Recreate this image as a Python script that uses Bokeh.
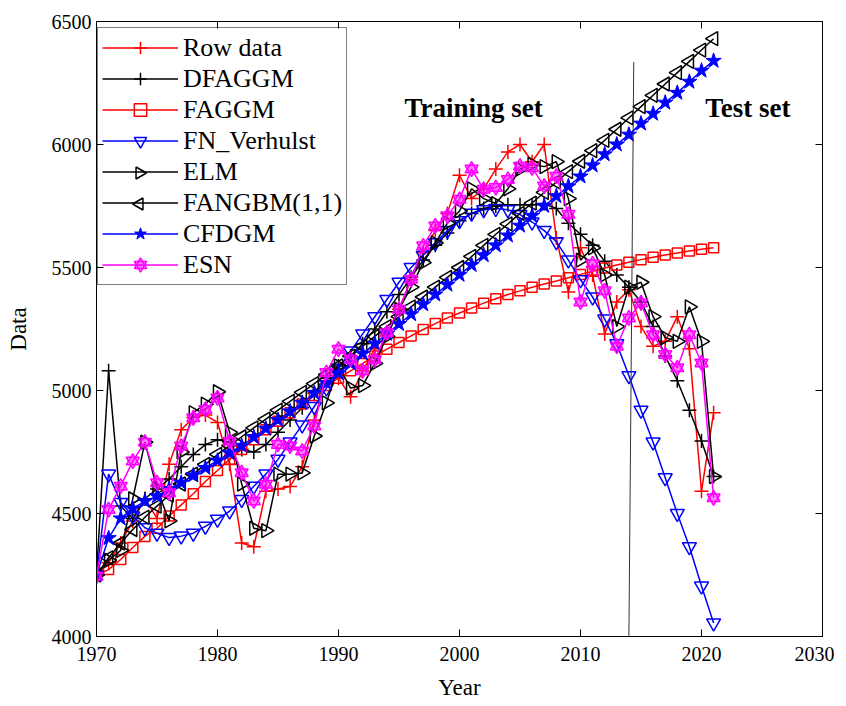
import math
from bokeh.plotting import figure
from bokeh.models import FixedTicker, LinearAxis, Legend, LegendItem, Range1d, Label, ColumnDataSource
from bokeh.embed import file_html
from bokeh.resources import INLINE

years = list(range(1970, 2022))

row_data = [4250, 4300, 4380, 4470, 4560, 4480, 4700, 4840, 4890, 4900,
            4870, 4700, 4380, 4365, 4590, 4600, 4610, 4690, 4880, 5060,
            5050, 4975, 5080, 5170, 5230, 5330, 5450, 5560, 5650, 5720,
            5875, 5780, 5820, 5900, 5970, 6000, 5930, 6000, 5620, 5400,
            5580, 5470, 5230, 5360, 5410, 5260, 5180, 5200, 5300, 5170,
            4590, 4910]

dfaggm = [4250, 5080, 4530, 4480, 4560, 4600, 4640, 4690, 4740, 4780,
          4800, 4790, 4760, 4750, 4780, 4830, 4880, 4930, 4990, 5050,
          5100, 5140, 5190, 5250, 5320, 5390, 5460, 5530, 5590, 5640,
          5690, 5720, 5740, 5750, 5755, 5755, 5755, 5760, 5740, 5680,
          5635, 5590, 5525, 5470, 5420, 5360, 5260, 5140, 5040, 4920,
          4795, 4650]

faggm = [4250, 4272, 4313, 4362, 4407, 4440, 4490, 4535, 4580, 4630,
         4675, 4720, 4760, 4800, 4840, 4875, 4910, 4945, 4980, 5020,
         5050, 5080, 5110, 5140, 5168, 5195, 5222, 5248, 5272, 5295,
         5315, 5335, 5355, 5373, 5390, 5405, 5420, 5433, 5445, 5458,
         5472, 5485, 5498, 5510, 5521, 5532, 5542, 5551, 5559, 5567,
         5574, 5580]

fn_verhulst = [4250, 4660, 4545, 4490, 4442, 4420, 4402, 4408, 4420, 4448,
               4476, 4510, 4557, 4611, 4660, 4720, 4790, 4860, 4935, 5010,
               5090, 5160, 5230, 5300, 5370, 5440, 5500, 5550, 5600, 5650,
               5690, 5720, 5735, 5740, 5735, 5715, 5685, 5650, 5605, 5530,
               5450, 5380, 5290, 5190, 5060, 4920, 4790, 4645, 4500, 4365,
               4205, 4055]

elm = [4250, 4310, 4350, 4560, 4790, 4600, 4470, 4750, 4910, 4945,
       4995, 4830, 4620, 4440, 4430, 4660, 4660, 4665, 4815, 4950,
       5100, 5010, 5020, 5110, 5220, 5330, 5420, 5520, 5600, 5680,
       5730, 5820, 5780, 5760, 5820, 5900, 5920, 5910, 5930, 5780,
       5530, 5580, 5470, 5260, 5420, 5440, 5300, 5215, 5200, 5340,
       5200, 4650]

fangbm = [4250, 4320, 4380, 4435, 4485, 4530, 4575, 4620, 4660, 4700,
          4740, 4776, 4812, 4848, 4884, 4920, 4956, 4992, 5028, 5064,
          5100, 5140, 5180, 5220, 5260, 5300, 5340, 5380, 5420, 5460,
          5500, 5545, 5590, 5635, 5677, 5720, 5762, 5805, 5847, 5890,
          5932, 5975, 6017, 6062, 6108, 6154, 6200, 6246, 6292, 6338,
          6384, 6430]

cfdgm = [4250, 4400, 4480, 4520, 4550, 4570, 4600, 4625, 4655, 4685,
         4715, 4745, 4775, 4810, 4845, 4880, 4915, 4950, 4990, 5030,
         5070, 5110, 5150, 5190, 5230, 5270, 5310, 5350, 5390, 5430,
         5470, 5510, 5550, 5590, 5630, 5670, 5710, 5750, 5790, 5830,
         5870, 5915, 5960, 6000, 6040, 6085, 6125, 6170, 6210, 6255,
         6300, 6340]

esn = [4245, 4516, 4611, 4713, 4790, 4625, 4584, 4774, 4889, 4923,
       4970, 4794, 4666, 4551, 4619, 4781, 4774, 4754, 4856, 5073,
       5168, 5127, 5080, 5126, 5235, 5330, 5452, 5588, 5669, 5710,
       5777, 5900, 5818, 5825, 5858, 5912, 5905, 5831, 5871, 5716,
       5360, 5515, 5405, 5180, 5295, 5356, 5227, 5146, 5092, 5227,
       5112, 4564]

x_ticks = [1970, 1980, 1990, 2000, 2010, 2020, 2030]
y_ticks = [4000, 4500, 5000, 5500, 6000, 6500]
split_x = [2014.4, 2014.0]
split_y = [6335, 4000]

FONT = "Liberation Serif"
RED, BLACK, BLUE, MAG = "#ff0000", "#000000", "#0000ff", "#ff00ff"
FW, FH = 726, 615
X0, X1, Y0, Y1 = 1970, 2030, 4000, 6500

p = figure(frame_width=FW, frame_height=FH,
           x_range=Range1d(X0, X1), y_range=Range1d(Y0, Y1),
           output_backend="svg", toolbar_location=None,
           min_border_left=96, min_border_top=21, min_border_right=12,
           min_border_bottom=67,
           background_fill_color="white", border_fill_color="white")
p.grid.visible = False
p.outline_line_color = "black"
p.outline_line_width = 1

for ax in [p.xaxis[0], p.yaxis[0]]:
    ax.major_tick_in = 7
    ax.major_tick_out = 0
    ax.minor_tick_line_color = None
    ax.axis_line_color = "black"
    ax.major_label_text_font = FONT
    ax.major_label_text_font_size = "20px"
    ax.major_label_text_color = "black"
    ax.axis_label_text_font = FONT
    ax.axis_label_text_font_size = "23px"
    ax.axis_label_text_font_style = "normal"
    ax.axis_label_text_color = "black"
p.xaxis.ticker = FixedTicker(ticks=x_ticks)
p.yaxis.ticker = FixedTicker(ticks=y_ticks)
p.xaxis.axis_label = "Year"
p.yaxis.axis_label = "Data"
p.xaxis.major_label_standoff = 10
p.yaxis.major_label_standoff = 5
p.xaxis.axis_label_standoff = 11
p.yaxis.axis_label_standoff = 18

top_ax = LinearAxis(ticker=FixedTicker(ticks=x_ticks), major_tick_in=7, major_tick_out=0,
                    minor_tick_line_color=None,
                    major_label_overrides={t: "" for t in x_ticks},
                    major_label_standoff=0)
right_ax = LinearAxis(ticker=FixedTicker(ticks=y_ticks), major_tick_in=7, major_tick_out=0,
                      minor_tick_line_color=None,
                      major_label_overrides={t: "" for t in y_ticks},
                      major_label_standoff=0)
p.add_layout(top_ax, "above")
p.add_layout(right_ax, "right")

LW = 1.5
items = []

l = p.line(years, row_data, color=RED, line_width=LW)
s = p.scatter(years, row_data, marker="cross", size=14, line_color=RED, line_width=LW)
items.append(LegendItem(label="Row data", renderers=[l, s]))

l = p.line(years, dfaggm, color=BLACK, line_width=LW)
s = p.scatter(years, dfaggm, marker="cross", size=14, line_color=BLACK, line_width=LW)
items.append(LegendItem(label="DFAGGM", renderers=[l, s]))

l = p.line(years, faggm, color=RED, line_width=LW)
s = p.scatter(years, faggm, marker="square", size=10, line_color=RED, fill_color=None, line_width=LW)
items.append(LegendItem(label="FAGGM", renderers=[l, s]))

l = p.line(years, fn_verhulst, color=BLUE, line_width=LW)
s = p.scatter(years, fn_verhulst, marker="inverted_triangle", size=14, line_color=BLUE,
              fill_color=None, line_width=LW)
items.append(LegendItem(label="FN_Verhulst", renderers=[l, s]))

elm_src = ColumnDataSource(dict(x=years, y=elm, a=[-math.pi / 2] * len(years)))
l = p.line("x", "y", source=elm_src, color=BLACK, line_width=LW)
s = p.scatter("x", "y", source=elm_src, marker="triangle", size=14, angle="a",
              line_color=BLACK, fill_color=None, line_width=LW)
items.append(LegendItem(label="ELM", renderers=[l]))

fan_src = ColumnDataSource(dict(x=years, y=fangbm, a=[math.pi / 2] * len(years)))
l = p.line("x", "y", source=fan_src, color=BLACK, line_width=LW)
s = p.scatter("x", "y", source=fan_src, marker="triangle", size=14, angle="a",
              line_color=BLACK, fill_color=None, line_width=LW)
items.append(LegendItem(label="FANGBM(1,1)", renderers=[l]))

l = p.line(years, cfdgm, color=BLUE, line_width=LW)
s = p.scatter(years, cfdgm, marker="star", size=16, line_color=BLUE, fill_color=BLUE, line_width=1)
items.append(LegendItem(label="CFDGM", renderers=[l, s]))

l = p.line(years, esn, color=MAG, line_width=LW)
s1 = p.scatter(years, esn, marker="triangle", size=13, line_color=MAG, fill_color=MAG,
               fill_alpha=0.3, line_width=LW)
s2 = p.scatter(years, esn, marker="inverted_triangle", size=13, line_color=MAG, fill_color=MAG,
               fill_alpha=0.3, line_width=LW)
items.append(LegendItem(label="ESN", renderers=[l, s1, s2]))

p.line(split_x, split_y, color="#333333", line_width=1)

p.add_layout(Label(x=1995.45, y=6150, text="Training set", text_font=FONT,
                   text_font_style="bold", text_font_size="27px", text_baseline="middle",
                   text_color="black"))
p.add_layout(Label(x=2020.3, y=6150, text="Test set", text_font=FONT,
                   text_font_style="bold", text_font_size="27px", text_baseline="middle",
                   text_color="black"))

LEG_PAD, LEG_H, LEG_X, LEG_Y, GW = 4, 31, 1, 351, 76
legend = Legend(items=items, location=(LEG_X, LEG_Y),
                label_text_font=FONT, label_text_font_size="26px", label_text_color="black",
                glyph_width=GW, glyph_height=LEG_H, label_height=LEG_H, label_standoff=5,
                spacing=0, padding=LEG_PAD, margin=0,
                border_line_color="black", border_line_width=1,
                background_fill_color="white", background_fill_alpha=0.0)
p.add_layout(legend, "center")

# rotated-triangle symbols for the ELM / FANGBM legend entries
# (legend layout offsets in pixels converted to data units)
leg_top = LEG_Y + 2 * LEG_PAD + 8 * LEG_H
gx_px = LEG_X + LEG_PAD + GW / 2
sym_x, sym_y, sym_a = [], [], []
for idx, ang in [(4, -math.pi / 2), (5, math.pi / 2)]:
    gy_px = leg_top - LEG_PAD - LEG_H / 2 - idx * LEG_H
    sym_x.append(X0 + gx_px * (X1 - X0) / FW)
    sym_y.append(Y0 + gy_px * (Y1 - Y0) / FH)
    sym_a.append(ang)
sym_src = ColumnDataSource(dict(x=sym_x, y=sym_y, a=sym_a))
p.scatter("x", "y", source=sym_src, marker="triangle", size=12, angle="a",
          line_color=BLACK, fill_color=None, line_width=LW)

open("out.html", "w").write(file_html(p, INLINE))
